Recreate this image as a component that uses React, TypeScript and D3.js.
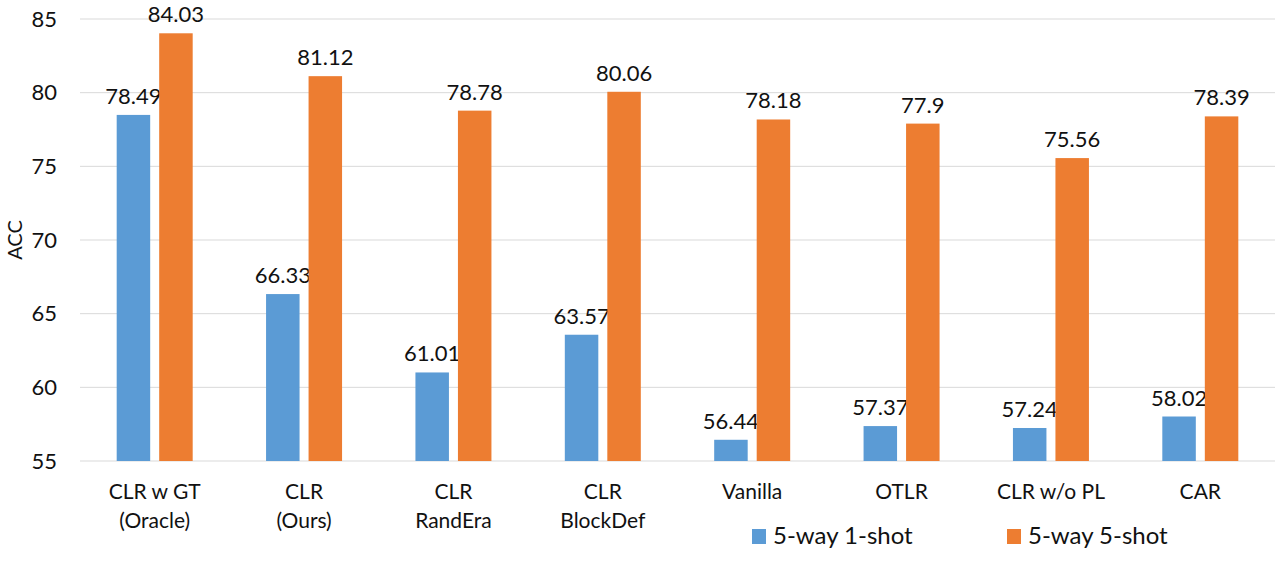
import React from "react";
import * as d3 from "d3";

const categories: string[][] = [
  ["CLR w GT", "(Oracle)"],
  ["CLR", "(Ours)"],
  ["CLR", "RandEra"],
  ["CLR", "BlockDef"],
  ["Vanilla"],
  ["OTLR"],
  ["CLR w/o PL"],
  ["CAR"],
];
const seriesNames = ["5-way 1-shot", "5-way 5-shot"];
const oneShot = [78.49, 66.33, 61.01, 63.57, 56.44, 57.37, 57.24, 58.02];
const fiveShot = [84.03, 81.12, 78.78, 80.06, 78.18, 77.9, 75.56, 78.39];
const yTicks = [55, 60, 65, 70, 75, 80, 85];
const colors = ["#5B9BD5", "#ED7D31"];

const W = 1281;
const H = 562;
const FONT = "Lato, 'Open Sans', sans-serif";

export default function App() {
  const keys = categories.map((c) => c.join(" "));
  const x = d3.scaleBand<string>().domain(keys).range([80, 1275]).paddingInner(0).paddingOuter(0);
  const y = d3.scaleLinear().domain([55, 85]).range([461, 19]);
  const values = [oneShot, fiveShot];

  return (
    <svg
      width={W}
      height={H}
      style={{ position: "absolute", left: 0, top: 0, background: "#fff" }}
      fontFamily={FONT}
    >
      {yTicks.map((t) => (
        <g key={t}>
          <line x1={80} x2={1275} y1={y(t)} y2={y(t)} stroke="#d9d9d9" strokeWidth={1} />
          <text x={57} y={y(t)} dy="0.35em" textAnchor="end" fontSize={22} fill="#111">
            {t}
          </text>
        </g>
      ))}
      <text
        transform={`translate(22,240) rotate(-90)`}
        textAnchor="middle"
        fontSize={20}
        fill="#111"
      >
        ACC
      </text>
      {keys.map((k, i) => {
        const cx = (x(k) as number) + x.bandwidth() / 2;
        const inner = d3
          .scaleBand<string>()
          .domain(seriesNames)
          .range([cx - 38, cx + 38])
          .paddingInner(0.212)
          .paddingOuter(0);
        return (
          <g key={k}>
            {seriesNames.map((s, si) => {
              const v = values[si][i];
              const bx = inner(s) as number;
              return (
                <g key={s}>
                  <rect
                    x={bx}
                    y={y(v)}
                    width={inner.bandwidth()}
                    height={y(55) - y(v)}
                    fill={colors[si]}
                  />
                  <text
                    x={bx + inner.bandwidth() / 2}
                    y={y(v) - 11}
                    textAnchor="middle"
                    fontSize={22}
                    fill="#111"
                  >
                    {v}
                  </text>
                </g>
              );
            })}
            {categories[i].map((line, li) => (
              <text key={li} x={cx} y={499 + li * 29} textAnchor="middle" fontSize={21} fill="#111">
                {line}
              </text>
            ))}
          </g>
        );
      })}
      {seriesNames.map((s, si) => {
        const lx = si === 0 ? 752 : 1007;
        return (
          <g key={s}>
            <rect x={lx} y={529} width={14} height={15} fill={colors[si]} />
            <text x={lx + 21} y={544} fontSize={24} fill="#111">
              {s}
            </text>
          </g>
        );
      })}
    </svg>
  );
}
